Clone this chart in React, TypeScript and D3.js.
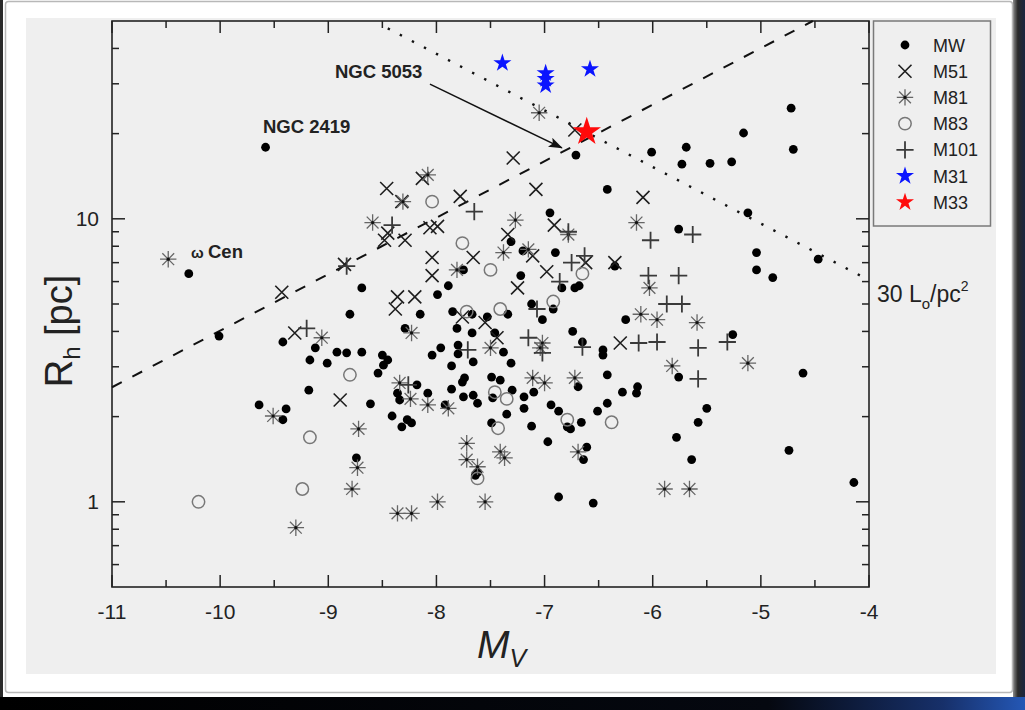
import React from "react";
import * as d3 from "d3";

// Absolute magnitude M_V and half-light radius R_h [pc] for each cluster sample
const mwClusters: [number, number][] = [
  [-9.58, 17.9], [-10.29, 6.4], [-10.01, 3.85], [-9.42, 3.67], [-9.12, 3.5], [-8.92, 3.38],
  [-8.83, 3.36], [-8.69, 3.38], [-9.17, 3.17], [-9.01, 3.09], [-8.5, 3.3], [-8.45, 3.17],
  [-8.49, 3.04], [-8.54, 2.85], [-8.69, 5.7], [-8.8, 4.6], [-9.18, 2.48], [-9.64, 2.2],
  [-9.39, 2.13], [-9.42, 1.95], [-8.61, 2.22], [-8.18, 2.59], [-8.36, 2.42], [-8.34, 2.29],
  [-8.08, 2.42], [-7.92, 2.2], [-7.86, 2.5], [-7.76, 2.65], [-7.75, 2.35], [-8.41, 2.01],
  [-8.32, 1.84], [-8.27, 1.95], [-8.23, 1.9], [-8.74, 1.43], [-7.96, 3.5], [-8.04, 3.3],
  [-7.8, 3.58], [-7.8, 3.33], [-7.86, 3.02], [-7.89, 5.8], [-7.99, 5.4], [-8.15, 4.6],
  [-8.29, 4.1], [-7.75, 6.6], [-7.85, 4.7], [-7.81, 4.1], [-6.95, 10.5], [-6.42, 12.7],
  [-6.71, 16.8], [-7.31, 8.3], [-7.2, 7.7], [-6.9, 7.6], [-6.35, 6.8], [-7.22, 6.3],
  [-6.84, 5.7], [-6.72, 5.7], [-6.68, 5.8], [-7.12, 5.0], [-6.92, 4.8], [-7.34, 4.6],
  [-7.02, 4.4], [-7.67, 4.6], [-7.53, 4.5], [-7.67, 3.95], [-7.46, 3.95], [-6.74, 4.0],
  [-6.65, 3.67], [-6.25, 4.4], [-5.73, 15.6], [-5.47, 15.7], [-5.27, 15.9], [-6.01, 17.2],
  [-5.69, 17.9], [-5.16, 20.1], [-4.72, 24.6], [-4.7, 17.6], [-5.12, 10.5], [-5.76, 9.2],
  [-5.04, 7.6], [-5.04, 6.6], [-4.89, 6.2], [-4.47, 7.2], [-5.26, 3.9], [-6.46, 3.44],
  [-6.46, 3.3], [-7.38, 3.38], [-7.66, 3.12], [-7.31, 3.09], [-7.74, 2.74], [-7.49, 2.76],
  [-7.41, 2.69], [-7.3, 2.48], [-7.48, 2.33], [-7.66, 2.38], [-7.62, 2.23], [-7.1, 2.44],
  [-7.19, 2.35], [-7.19, 2.14], [-6.69, 2.55], [-6.42, 2.81], [-6.28, 2.44], [-7.35, 2.04],
  [-7.49, 1.9], [-7.12, 1.85], [-6.94, 2.2], [-6.87, 2.09], [-6.79, 1.84], [-6.76, 1.81],
  [-6.66, 1.91], [-6.42, 2.23], [-6.51, 2.09], [-6.97, 1.63], [-6.61, 1.56], [-6.64, 1.41],
  [-7.64, 1.24], [-7.62, 1.27], [-6.87, 1.04], [-6.55, 0.99], [-5.76, 2.76], [-6.14, 2.55],
  [-6.15, 2.42], [-5.5, 2.14], [-5.58, 1.91], [-5.78, 1.69], [-5.64, 1.41], [-4.61, 2.85],
  [-4.74, 1.52], [-4.14, 1.17],
];

const m51Clusters: [number, number][] = [
  [-9.43, 5.5], [-9.31, 3.95], [-8.85, 6.9], [-8.46, 12.8], [-8.32, 11.5], [-8.13, 13.9],
  [-7.78, 12.0], [-8.48, 8.4], [-8.45, 8.9], [-8.29, 8.4], [-8.06, 9.3], [-7.99, 9.4],
  [-8.04, 7.3], [-8.04, 6.3], [-8.36, 5.3], [-8.2, 5.3], [-8.38, 4.8], [-7.76, 4.5],
  [-7.29, 16.4], [-7.08, 12.7], [-6.91, 9.5], [-7.34, 8.8], [-7.11, 7.4], [-7.66, 7.3],
  [-6.62, 7.0], [-6.35, 7.0], [-6.98, 6.5], [-7.25, 5.7], [-7.55, 4.3], [-7.44, 3.8],
  [-6.3, 3.64], [-6.72, 20.6], [-6.09, 11.9], [-8.89, 2.29],
];

const m81Clusters: [number, number][] = [
  [-10.48, 7.2], [-9.51, 2.01], [-9.3, 0.81], [-9.06, 3.8], [-8.59, 9.7], [-8.31, 11.5],
  [-8.08, 14.3], [-7.81, 6.6], [-8.23, 3.95], [-8.34, 2.63], [-8.24, 2.31], [-8.08, 2.2],
  [-7.89, 2.14], [-8.72, 1.81], [-8.73, 1.32], [-8.78, 1.11], [-7.99, 1.0], [-8.36, 0.91],
  [-8.23, 0.91], [-7.72, 1.61], [-7.72, 1.41], [-7.27, 9.9], [-6.78, 8.8], [-7.38, 7.6],
  [-7.15, 7.8], [-7.02, 3.64], [-7.5, 3.5], [-7.04, 3.5], [-7.11, 2.74], [-7.0, 2.63],
  [-6.72, 2.74], [-7.41, 1.5], [-7.37, 1.43], [-7.62, 1.33], [-7.55, 1.0], [-6.69, 1.5],
  [-7.05, 23.7], [-6.15, 9.7], [-6.03, 5.7], [-6.11, 4.6], [-5.96, 4.4], [-5.59, 4.3],
  [-5.82, 3.02], [-5.12, 3.09], [-5.89, 1.11], [-5.66, 1.11],
];

const m83Clusters: [number, number][] = [
  [-10.2, 1.0], [-9.24, 1.11], [-9.17, 1.69], [-8.8, 2.81], [-8.04, 11.5], [-7.76, 8.2],
  [-7.5, 6.6], [-7.72, 4.7], [-7.41, 4.8], [-6.92, 5.1], [-6.65, 6.4], [-7.46, 2.44],
  [-7.35, 2.31], [-7.43, 1.82], [-7.62, 1.21], [-6.79, 1.95], [-6.38, 1.91],
];

const m101Clusters: [number, number][] = [
  [-9.2, 4.1], [-8.83, 6.8], [-8.41, 9.5], [-7.65, 10.6], [-6.78, 9.0], [-6.63, 7.4],
  [-6.75, 7.0], [-6.86, 6.0], [-7.07, 4.8], [-7.15, 3.8], [-8.26, 2.59], [-7.71, 3.44],
  [-7.02, 3.36], [-6.65, 3.52], [-6.02, 8.4], [-5.63, 8.8], [-6.04, 6.3], [-5.76, 6.3],
  [-5.87, 5.0], [-5.73, 5.0], [-6.13, 3.64], [-5.96, 3.67], [-5.58, 3.5], [-5.31, 3.67],
  [-5.58, 2.72],
];

const m31Clusters: [number, number][] = [
  [-7.39, 35.5], [-6.99, 32.7], [-6.99, 31.2], [-6.99, 29.6], [-6.58, 33.8],
];

const m33Clusters: [number, number][] = [[-6.61, 20.3]];

// Reference relations (end points)
const dashedRelation: [number, number][] = [[-11, 2.54], [-4.52, 50]];
const dottedRelation: [number, number][] = [[-8.45, 47.1], [-4, 6.07]];

const xTicks = [-11, -10, -9, -8, -7, -6, -5, -4];
const xMinorTicks = [-10.5, -9.5, -8.5, -7.5, -6.5, -5.5, -4.5];
const yTicks = [1, 10];
const yMinorTicks = [0.6, 0.7, 0.8, 0.9, 2, 3, 4, 5, 6, 7, 8, 9, 20, 30, 40];

const legendNames = ["MW", "M51", "M81", "M83", "M101", "M31", "M33"];

const FONT = "'Liberation Sans', Arial, Helvetica, sans-serif";

const x = d3.scaleLinear().domain([-11, -4]).range([112, 869]);
const y = d3.scaleLog().domain([0.5, 50]).range([587, 21]);

const timesPath = (cx: number, cy: number, s: number) =>
  `M${cx - s},${cy - s}L${cx + s},${cy + s}M${cx - s},${cy + s}L${cx + s},${cy - s}`;
const plusPath = (cx: number, cy: number, s: number) =>
  `M${cx - s},${cy}L${cx + s},${cy}M${cx},${cy - s}L${cx},${cy + s}`;
const asteriskPath = (cx: number, cy: number, s: number) =>
  plusPath(cx, cy, s) + timesPath(cx, cy, s * 0.72);

const starGen = (r: number) => d3.symbol().type(d3.symbolStar).size((r * r) / 0.8908130915292852)();

const MW = ({ cx, cy }: { cx: number; cy: number }) => <circle cx={cx} cy={cy} r={4.4} fill="#000" />;
const M51 = ({ cx, cy }: { cx: number; cy: number }) => (
  <path d={timesPath(cx, cy, 6.5)} stroke="#1e1e1e" strokeWidth={1.6} fill="none" />
);
const M81 = ({ cx, cy }: { cx: number; cy: number }) => (
  <g>
    <path d={asteriskPath(cx, cy, 8.2)} stroke="#666" strokeWidth={1.3} fill="none" />
    <circle cx={cx} cy={cy} r={1.6} fill="#111" />
  </g>
);
const M83 = ({ cx, cy }: { cx: number; cy: number }) => (
  <circle cx={cx} cy={cy} r={6.2} stroke="#777" strokeWidth={1.5} fill="none" />
);
const M101 = ({ cx, cy }: { cx: number; cy: number }) => (
  <path d={plusPath(cx, cy, 8.6)} stroke="#3a3a3a" strokeWidth={1.8} fill="none" />
);
const Star = ({ cx, cy, r, color }: { cx: number; cy: number; r: number; color: string }) => (
  <path d={starGen(r) || ""} transform={`translate(${cx},${cy})`} fill={color} />
);

const markers = [
  (cx: number, cy: number, k: string) => <MW key={k} cx={cx} cy={cy} />,
  (cx: number, cy: number, k: string) => <M51 key={k} cx={cx} cy={cy} />,
  (cx: number, cy: number, k: string) => <M81 key={k} cx={cx} cy={cy} />,
  (cx: number, cy: number, k: string) => <M83 key={k} cx={cx} cy={cy} />,
  (cx: number, cy: number, k: string) => <M101 key={k} cx={cx} cy={cy} />,
  (cx: number, cy: number, k: string) => <Star key={k} cx={cx} cy={cy} r={9.5} color="#0a14ff" />,
  (cx: number, cy: number, k: string) => <Star key={k} cx={cx} cy={cy} r={9.5} color="#ff0a0a" />,
];

const seriesList = [mwClusters, m51Clusters, m81Clusters, m83Clusters, m101Clusters, m31Clusters];

export default function App() {
  const line = d3
    .line<[number, number]>()
    .x((d) => x(d[0]))
    .y((d) => y(d[1]));

  const arrowStart: [number, number] = [-8.06, 29.9];
  const arrowEnd: [number, number] = [-6.84, 17.8];

  const left = 112, right = 869, top = 21, bottom = 587;

  return (
    <svg width={1025} height={710} style={{ position: "absolute", left: 0, top: 0 }} fontFamily={FONT}>
      <defs>
        <linearGradient id="bandGrad" x1="0" x2="1" y1="0" y2="0">
          <stop offset="0" stopColor="#000" />
          <stop offset="0.75" stopColor="#050810" />
          <stop offset="0.92" stopColor="#17306a" />
          <stop offset="1" stopColor="#2457b5" />
        </linearGradient>
        <linearGradient id="sideGrad" x1="0" x2="1" y1="0" y2="0">
          <stop offset="0" stopColor="#8a8a8a" />
          <stop offset="0.4" stopColor="#2a2a2a" />
          <stop offset="1" stopColor="#1b2540" />
        </linearGradient>
        <marker id="arrowHead" viewBox="0 0 14 10" refX="13" refY="5" markerWidth="14" markerHeight="10"
          markerUnits="userSpaceOnUse" orient="auto">
          <path d="M0,0 L14,5 L0,10 L3,5 Z" fill="#111" />
        </marker>
      </defs>

      {/* page frame */}
      <rect x={0} y={0} width={1025} height={710} fill="#fff" />
      <rect x={0} y={0} width={3} height={710} fill="#2a2a2a" />
      <rect x={1013} y={0} width={12} height={710} fill="url(#sideGrad)" />
      <rect x={5.5} y={1.5} width={1007} height={691} rx={3} fill="#fff" stroke="#b8b8b8" strokeWidth={1.5} />
      <rect x={0} y={697} width={1025} height={13} fill="url(#bandGrad)" />

      {/* chart panel */}
      <rect x={26} y={18} width={970} height={656} fill="#efefef" />

      {/* plot frame */}
      <rect x={left} y={top} width={right - left} height={bottom - top} fill="#efefef" stroke="#222" strokeWidth={1.6} />

      {/* x ticks (bottom and top, inward) */}
      {xTicks.map((t) => (
        <g key={`xt${t}`}>
          <line x1={x(t)} x2={x(t)} y1={bottom} y2={bottom - 12} stroke="#222" strokeWidth={1.5} />
          <line x1={x(t)} x2={x(t)} y1={top} y2={top + 12} stroke="#222" strokeWidth={1.5} />
          <text x={x(t)} y={619} textAnchor="middle" fontSize={21} fill="#222">
            {t}
          </text>
        </g>
      ))}
      {xMinorTicks.map((t) => (
        <g key={`xm${t}`}>
          <line x1={x(t)} x2={x(t)} y1={bottom} y2={bottom - 7} stroke="#222" strokeWidth={1.5} />
          <line x1={x(t)} x2={x(t)} y1={top} y2={top + 7} stroke="#222" strokeWidth={1.5} />
        </g>
      ))}

      {/* y ticks (left and right, inward) */}
      {yTicks.map((t) => (
        <g key={`yt${t}`}>
          <line x1={left} x2={left + 13} y1={y(t)} y2={y(t)} stroke="#222" strokeWidth={1.5} />
          <line x1={right} x2={right - 13} y1={y(t)} y2={y(t)} stroke="#222" strokeWidth={1.5} />
          <text x={99} y={y(t) + 7.5} textAnchor="end" fontSize={21} fill="#222">
            {t}
          </text>
        </g>
      ))}
      {yMinorTicks.map((t) => (
        <g key={`ym${t}`}>
          <line x1={left} x2={left + 7} y1={y(t)} y2={y(t)} stroke="#222" strokeWidth={1.5} />
          <line x1={right} x2={right - 7} y1={y(t)} y2={y(t)} stroke="#222" strokeWidth={1.5} />
        </g>
      ))}

      {/* relations */}
      <path d={line(dashedRelation) || ""} stroke="#111" strokeWidth={2} strokeDasharray="11,12" fill="none" />
      <path d={line(dottedRelation) || ""} stroke="#111" strokeWidth={2.4} strokeDasharray="2.4,11.2" fill="none" />

      {/* cluster samples */}
      {seriesList.map((s, si) => (
        <g key={`s${si}`}>{s.map((d, i) => markers[si](x(d[0]), y(d[1]), `p${si}-${i}`))}</g>
      ))}
      {m33Clusters.map((d, i) => (
        <Star key={`m33-${i}`} cx={x(d[0])} cy={y(d[1])} r={15} color="#ff0a0a" />
      ))}

      {/* annotations */}
      <line x1={x(arrowStart[0])} y1={y(arrowStart[1])} x2={x(arrowEnd[0])} y2={y(arrowEnd[1])}
        stroke="#111" strokeWidth={1.5} markerEnd="url(#arrowHead)" />
      <text x={335} y={78} fontSize={18.5} fontWeight="bold" fill="#222">NGC 5053</text>
      <text x={263} y={133} fontSize={18.5} fontWeight="bold" fill="#222">NGC 2419</text>
      <text x={191} y={258} fontSize={15} fontWeight="bold" fill="#222">ω</text>
      <text x={208} y={258} fontSize={18.5} fontWeight="bold" fill="#222">Cen</text>
      <text x={877} y={302} fontSize={23} fill="#222">
        30 L<tspan fontSize={15} dy={7}>o</tspan>
        <tspan dy={-7}>/pc</tspan>
        <tspan fontSize={14} dy={-11}>2</tspan>
      </text>

      {/* axis titles */}
      <text transform="translate(72,331) rotate(-90)" textAnchor="middle" fontSize={38} fill="#222">
        R<tspan fontSize={24} dy={8}>h</tspan>
        <tspan dy={-8}> [pc]</tspan>
      </text>
      <text x={477} y={658} fontSize={39} fontStyle="italic" fill="#222">
        M<tspan fontSize={25} dy={9}>V</tspan>
      </text>

      {/* legend */}
      <rect x={873.5} y={21} width={117} height={205} fill="#efefef" stroke="#7a7a7a" strokeWidth={1.5} />
      {legendNames.map((name, i) => {
        const ly = 45 + i * 26.2;
        return (
          <g key={name}>
            {markers[i](905, ly, `lg${i}`)}
            <text x={933} y={ly + 6.5} fontSize={18} fill="#222">
              {name}
            </text>
          </g>
        );
      })}
    </svg>
  );
}
